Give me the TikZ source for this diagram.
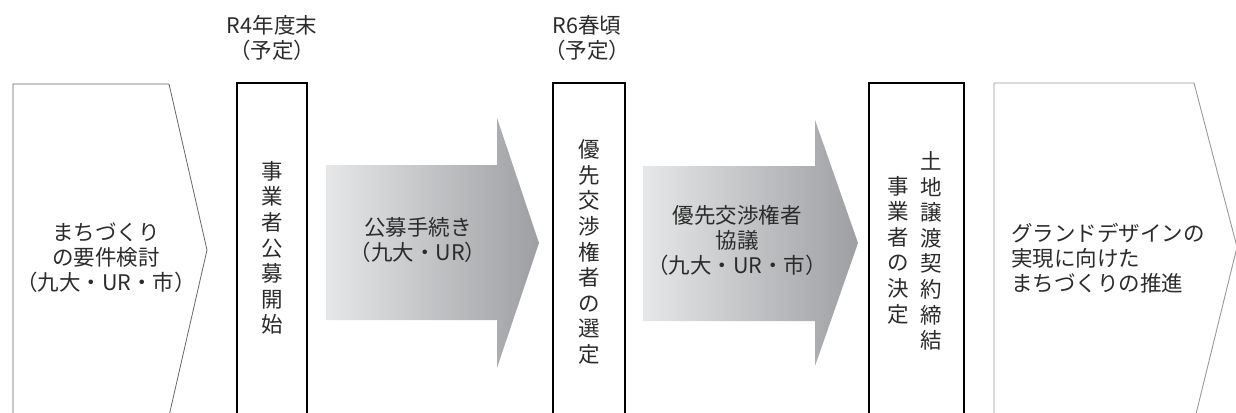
\documentclass[tikz,border=0pt]{standalone}
\usepackage{fontspec}
\setmainfont{Noto Sans CJK JP}
\definecolor{txt}{HTML}{2B2B2B}
\definecolor{pentL}{HTML}{666666}
\definecolor{pentR}{HTML}{999999}
\definecolor{gradL}{HTML}{E6E7E8}
\definecolor{gradR}{HTML}{9D9FA2}
\begin{document}
\begin{tikzpicture}[x=1pt,y=-1pt,
  lbl/.style={font=\fontsize{21.5}{25}\selectfont, text=txt, align=center, inner sep=0pt},
  vlbl/.style={lbl, font=\fontsize{21.5}{25.6}\selectfont},
  lbll/.style={lbl, align=left},
  bar/.style={draw=black, line width=1.6pt, fill=white},
  pentl/.style={draw=pentL, line width=0.8pt},
  pentr/.style={draw=pentR, line width=0.9pt},
  flow/.style={left color=gradL, right color=gradR}]
\useasboundingbox (0,0) rectangle (1236,412);
\begin{scope}
\clip (0,0) rectangle (1236,412);
% left pentagon
\draw[pentl] (13,420) -- (13,84) -- (169,84) -- (207,250) -- (169,416);
% bars
\draw[bar] (237,83) rectangle (307,430);
\draw[bar] (553,83) rectangle (625,430);
\draw[bar] (869,83) rectangle (964,430);
% right pentagon
\draw[pentr] (994,420) -- (994,83) -- (1194,83) -- (1237,247) -- (1196,414);
% arrows
\shade[flow] (326,165) -- (497,165) -- (497,118) -- (539,243) -- (497,368) -- (497,320) -- (326,320) -- cycle;
\shade[flow] (643,166) -- (815,166) -- (815,120) -- (858,243) -- (815,366) -- (815,321) -- (643,321) -- cycle;
\end{scope}
% top labels
\node[lbl] (d1) at (272,38) {R4年度末\\（予定）};
\node[lbl] (d2) at (587,38) {R6春頃\\（予定）};
% left pentagon text
\node[lbl] (p1) at (106,258) {まちづくり\\の要件検討\\（九大・UR・市）};
% bar texts
\node[vlbl] (b1) at (272,248) {事\\業\\者\\公\\募\\開\\始};
\node[vlbl] (b2) at (589,252) {優\\先\\交\\渉\\権\\者\\の\\選\\定};
\node[vlbl] (b3r) at (931,251) {土\\地\\譲\\渡\\契\\約\\締\\結};
\node[vlbl] (b3l) at (898,250) {事\\業\\者\\の\\決\\定};
% arrow texts
\node[lbl] (a1) at (418,240) {公募手続き\\（九大・UR）};
\node[lbl] (a2) at (737,240) {優先交渉権者\\協議\\（九大・UR・市）};
% right pentagon text
\node[lbll, anchor=west] (p2) at (1011,258) {グランドデザインの\\実現に向けた\\まちづくりの推進};
\end{tikzpicture}
\end{document}
